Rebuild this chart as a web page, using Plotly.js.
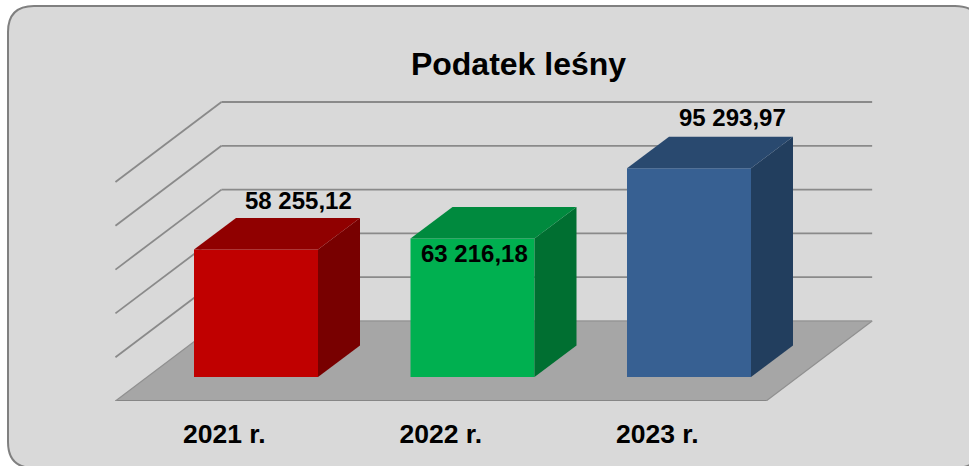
<!DOCTYPE html>
<html lang="pl">
<head>
<meta charset="utf-8">
<title>Podatek leśny</title>
<script src="https://cdn.plot.ly/plotly-3.0.1.min.js"></script>
<style>html,body{margin:0;padding:0;background:#fff}#chart{width:969px;height:466px}</style>
</head>
<body>
<div id="chart"></div>
<script>
// --- data ---
const chartTitle = 'Podatek leśny';
const categories = ['2021 r.', '2022 r.', '2023 r.'];
const values = [58255.12, 63216.18, 95293.97];
const gridValues = [20000, 40000, 60000, 80000, 100000];

// --- styles ---
const frontColors = ['#C00000', '#00B050', '#376092'];
const topColors = ['#900000', '#008A3E', '#29496F'];
const sideColors = ['#780000', '#006F31', '#223E5E'];
const FONT = '"Liberation Sans", Arial, sans-serif';

// --- geometry (pixels, converted to axis units below) ---
const W = 969, H = 466, bottomMargin = 65;
const pxPerCat = 216.5, cat0Px = 224.3;
const pxPerUnit = 43.8 / 20000, zeroPx = 377;
const plotH = H - bottomMargin;
const cx = px => px / pxPerCat;      // horizontal px -> category units
const vy = px => px / pxPerUnit;     // vertical px -> value units

const xRange = [-cat0Px / pxPerCat, (W - cat0Px) / pxPerCat];
const yRange = [-(plotH - zeroPx) / pxPerUnit, zeroPx / pxPerUnit];

const barShift = cx(31.7), barW = cx(124);
const barDx = cx(42), barDy = vy(31.5);
const wallDx = cx(106), wallDy = vy(80);
const frontY = vy(-24);               // front edge of the floor
const backY = frontY + wallDy;        // value 0 on the back wall
const xL = -0.5 - cx(0.6), xR = 2.5 + cx(0.6);

const idx = categories.map((_, i) => i);

// side and top faces of every column, from the same values
const faces = [];
idx.forEach(i => {
  const l = i + barShift - barW / 2, r = i + barShift + barW / 2, v = values[i];
  faces.push({
    type: 'scatter', mode: 'lines', hoverinfo: 'skip', showlegend: false,
    x: [r, r + barDx, r + barDx, r, r], y: [0, barDy, v + barDy, v, 0],
    fill: 'toself', fillcolor: sideColors[i], line: {width: 0}
  });
  faces.push({
    type: 'scatter', mode: 'lines', hoverinfo: 'skip', showlegend: false,
    x: [l, l + barDx, r + barDx, r, l], y: [v, v + barDy, v + barDy, v, v],
    fill: 'toself', fillcolor: topColors[i], line: {width: 0}
  });
});

const bars = {
  type: 'bar', x: idx.map(i => i + barShift), y: values, width: barW,
  marker: {color: frontColors, line: {width: 0}},
  hoverinfo: 'skip', showlegend: false
};

// rounded chart panel
const px2x = p => p / W, px2y = p => (plotH - p) / plotH;
const pL = 8, pT = 6, pR = 981, pB = 468, rad = 26;
const panelPath = [
  ['M', pL + rad, pT], ['L', pR - rad, pT], ['Q', pR, pT, pR, pT + rad],
  ['L', pR, pB - rad], ['Q', pR, pB, pR - rad, pB], ['L', pL + rad, pB],
  ['Q', pL, pB, pL, pB - rad], ['L', pL, pT + rad], ['Q', pL, pT, pL + rad, pT]
].map(s => {
  let out = s[0];
  for (let k = 1; k < s.length; k += 2) out += ' ' + px2x(s[k]).toFixed(5) + ',' + px2y(s[k + 1]).toFixed(5);
  return out;
}).join(' ') + ' Z';

const gridLine = {color: '#8A8A8A', width: 1.8};
const shapes = [
  {type: 'path', xref: 'paper', yref: 'paper', layer: 'below', path: panelPath,
   fillcolor: '#D9D9D9', line: {color: '#808080', width: 2}},
  // floor
  {type: 'path', xref: 'x', yref: 'y', layer: 'below',
   path: `M ${xL},${frontY} L ${xR},${frontY} L ${xR + wallDx},${backY} L ${xL + wallDx},${backY} Z`,
   fillcolor: '#A6A6A6', line: {width: 0}},
  {type: 'line', xref: 'x', yref: 'y', layer: 'below', x0: xL, x1: xR, y0: frontY, y1: frontY,
   line: {color: '#868686', width: 2}},
  {type: 'line', xref: 'x', yref: 'y', layer: 'below', x0: xL, x1: xL + wallDx, y0: frontY, y1: backY,
   line: {color: '#909090', width: 1.2}},
  {type: 'line', xref: 'x', yref: 'y', layer: 'below', x0: xR, x1: xR + wallDx, y0: frontY, y1: backY,
   line: {color: '#909090', width: 1.2}},
  {type: 'line', xref: 'x', yref: 'y', layer: 'below', x0: xL + wallDx, x1: xR + wallDx, y0: backY, y1: backY,
   line: {color: '#969696', width: 1.4}}
];
gridValues.forEach(v => {
  shapes.push({type: 'line', xref: 'x', yref: 'y', layer: 'below',
    x0: xL + wallDx, x1: xR + wallDx, y0: backY + v, y1: backY + v, line: gridLine});
  shapes.push({type: 'line', xref: 'x', yref: 'y', layer: 'below',
    x0: xL, x1: xL + wallDx, y0: frontY + v, y1: backY + v, line: gridLine});
});

// data labels: placed relative to each column's top
const fmt = v => {
  const [a, b] = v.toFixed(2).split('.');
  return a.replace(/\B(?=(\d{3})+$)/g, ' ') + ',' + b;
};
const labelShiftX = [42, 1.5, 43.5], labelShiftY = [49, -15, 51];
const annotations = idx.map(i => ({
  x: i + barShift, y: values[i], xref: 'x', yref: 'y', text: '<b>' + fmt(values[i]) + '</b>',
  showarrow: false, xanchor: 'center', yanchor: 'middle',
  xshift: labelShiftX[i], yshift: labelShiftY[i],
  font: {family: FONT, size: 24, color: '#000'}
}));

const layout = {
  width: W, height: H,
  margin: {l: 0, r: 0, t: 0, b: bottomMargin, pad: 0},
  paper_bgcolor: '#FFFFFF', plot_bgcolor: 'rgba(0,0,0,0)',
  showlegend: false,
  title: {text: '<b>' + chartTitle + '</b>', x: 518.5 / W, xanchor: 'center',
          y: 1 - 64 / H, yanchor: 'middle', xref: 'paper', yref: 'container',
          font: {family: FONT, size: 32, color: '#000'}},
  xaxis: {range: xRange, fixedrange: true, tickmode: 'array', tickvals: idx, ticktext: categories.map(c => '<b>' + c + '</b>'),
          showgrid: false, zeroline: false, showline: false, ticks: '', ticklabelstandoff: 14,
          tickfont: {family: FONT, size: 26.5, color: '#000'}},
  yaxis: {range: yRange, fixedrange: true, visible: false, showgrid: false, zeroline: false},
  shapes, annotations
};

Plotly.newPlot('chart', [bars].concat(faces), layout, {displayModeBar: false, staticPlot: true});
</script>
</body>
</html>
